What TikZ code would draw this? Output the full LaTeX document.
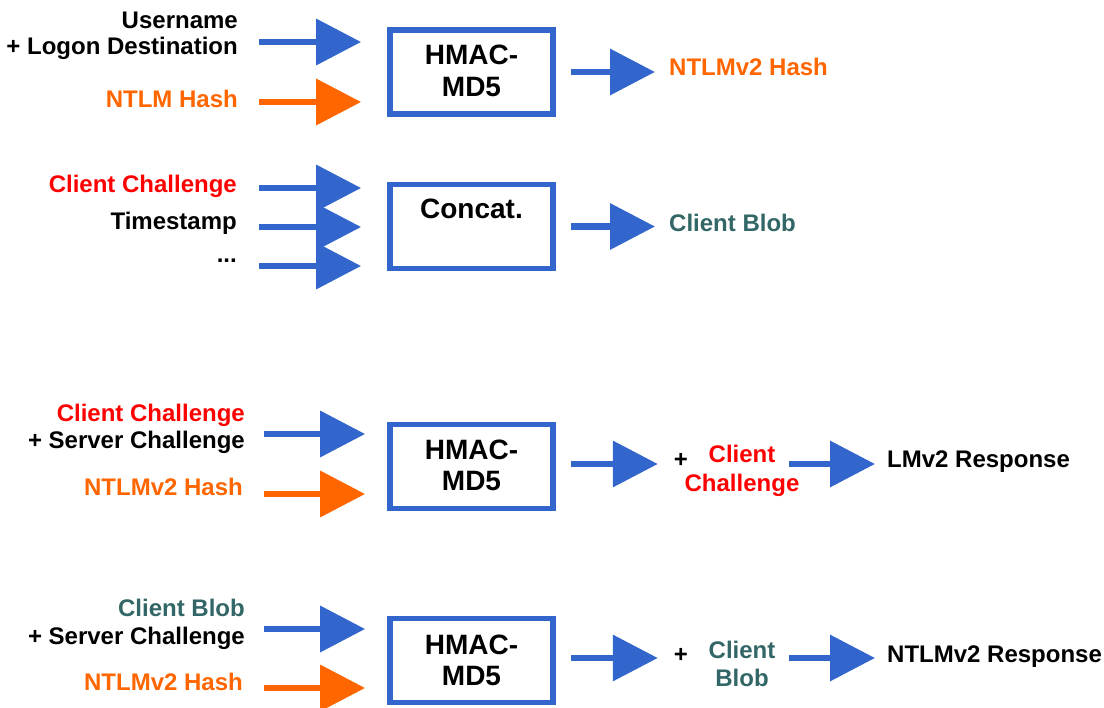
\documentclass[tikz,border=0pt]{standalone}
\usepackage{fontspec}
\setmainfont{Liberation Sans}
\usetikzlibrary{arrows.meta}

\definecolor{nblue}{HTML}{3366CC}
\definecolor{norange}{HTML}{FF6600}
\definecolor{nred}{HTML}{FF0000}
\definecolor{nteal}{HTML}{336666}

\newcommand{\lblsize}{\fontsize{24pt}{27pt}\selectfont\bfseries}
\newcommand{\boxsize}{\fontsize{28pt}{32pt}\selectfont\bfseries}

\tikzset{
  lbl/.style={font=\lblsize, inner sep=0pt},
  lblr/.style={lbl, anchor=base east},
  lbll/.style={lbl, anchor=base west},
  lblc/.style={lbl, anchor=base},
  boxtxt/.style={font=\boxsize, inner sep=0pt, anchor=base},
  procbox/.style={draw=nblue, line width=5.7pt, minimum width=163.3pt,
                  minimum height=84pt, inner sep=0pt},
  flow/.style={line width=6.7pt, -{Triangle[length=45pt,width=45pt]}},
  bflow/.style={flow, nblue},
  oflow/.style={flow, norange},
}

\begin{document}
\begin{tikzpicture}[x=1pt, y=-1pt]
\useasboundingbox (0,0) rectangle (1104,708);

% ---------- NTLMv2 hash ----------
\node[lblr] (u1) at (238,29) {Username};
\node[lblr] (u2) at (238,55) {+ Logon Destination};
\node[lblr, text=norange] (nh1) at (238,108) {NTLM Hash};
\node[procbox] (h1) at (471.5,72) {};
\node[boxtxt] (h1a) at (471.5,65) {HMAC-};
\node[boxtxt] (h1b) at (471.5,97) {MD5};
\node[lbll, text=norange] (r1) at (669,76) {NTLMv2 Hash};
\coordinate (s1a) at (259,42);
\coordinate (s1b) at (259,102);
\draw[bflow, shorten >=25.85pt] (s1a) -- (s1a -| h1.west);
\draw[oflow, shorten >=25.85pt] (s1b) -- (s1b -| h1.west);
\draw[bflow, shorten <=14.85pt, shorten >=14pt] (h1.east) -- (h1.east -| r1.west);

% ---------- client blob ----------
\node[lblr, text=nred] (c2) at (237,193) {Client Challenge};
\node[lblr] (t2) at (237,230) {Timestamp};
\node[lblr] (d2) at (237,263) {...};
\node[procbox] (h2) at (471.5,226.5) {};
\node[boxtxt] (h2a) at (471.5,219) {Concat.};
\node[lbll, text=nteal] (r2) at (669,232) {Client Blob};
\coordinate (s2a) at (259,188);
\coordinate (s2b) at (259,227);
\coordinate (s2c) at (259,266);
\draw[bflow, shorten >=25.85pt] (s2a) -- (s2a -| h2.west);
\draw[bflow, shorten >=25.85pt] (s2b) -- (s2b -| h2.west);
\draw[bflow, shorten >=25.85pt] (s2c) -- (s2c -| h2.west);
\draw[bflow, shorten <=14.85pt, shorten >=14pt] (h2.east) -- (h2.east -| r2.west);

% ---------- LMv2 response ----------
\node[lblr, text=nred] (c3) at (245,422) {Client Challenge};
\node[lblr] (sc3) at (245,449) {+ Server Challenge};
\node[lblr, text=norange] (nh3) at (243,496) {NTLMv2 Hash};
\node[procbox] (h3) at (471.5,466.5) {};
\node[boxtxt] (h3a) at (471.5,460) {HMAC-};
\node[boxtxt] (h3b) at (471.5,491) {MD5};
\coordinate (s3a) at (264,434);
\coordinate (s3b) at (264,494);
\draw[bflow, shorten >=21.85pt] (s3a) -- (s3a -| h3.west);
\draw[oflow, shorten >=21.85pt] (s3b) -- (s3b -| h3.west);
\node[lblc] (p3) at (681,468) {+};
\node[lblc, text=nred] (cc3a) at (742,463) {Client};
\node[lblc, text=nred] (cc3b) at (742,492) {Challenge};
\node[lbll] (r3) at (887,468) {LMv2 Response};
\coordinate (o3) at (571,464);
\coordinate (q3) at (789,464);
\draw[bflow, shorten >=16pt] (o3) -- (o3 -| p3.west);
\draw[bflow, shorten >=12pt] (q3) -- (q3 -| r3.west);

% ---------- NTLMv2 response ----------
\node[lblr, text=nteal] (c4) at (245,616) {Client Blob};
\node[lblr] (sc4) at (245,644) {+ Server Challenge};
\node[lblr, text=norange] (nh4) at (243,690) {NTLMv2 Hash};
\node[procbox] (h4) at (471.5,660.5) {};
\node[boxtxt] (h4a) at (471.5,654) {HMAC-};
\node[boxtxt] (h4b) at (471.5,685) {MD5};
\coordinate (s4a) at (264,629);
\coordinate (s4b) at (264,688);
\draw[bflow, shorten >=21.85pt] (s4a) -- (s4a -| h4.west);
\draw[oflow, shorten >=21.85pt] (s4b) -- (s4b -| h4.west);
\node[lblc] (p4) at (681,662) {+};
\node[lblc, text=nteal] (cb4a) at (742,658) {Client};
\node[lblc, text=nteal] (cb4b) at (742,686) {Blob};
\node[lbll] (r4) at (887,662) {NTLMv2 Response};
\coordinate (o4) at (571,658);
\coordinate (q4) at (789,658);
\draw[bflow, shorten >=16pt] (o4) -- (o4 -| p4.west);
\draw[bflow, shorten >=12pt] (q4) -- (q4 -| r4.west);
\end{tikzpicture}
\end{document}
